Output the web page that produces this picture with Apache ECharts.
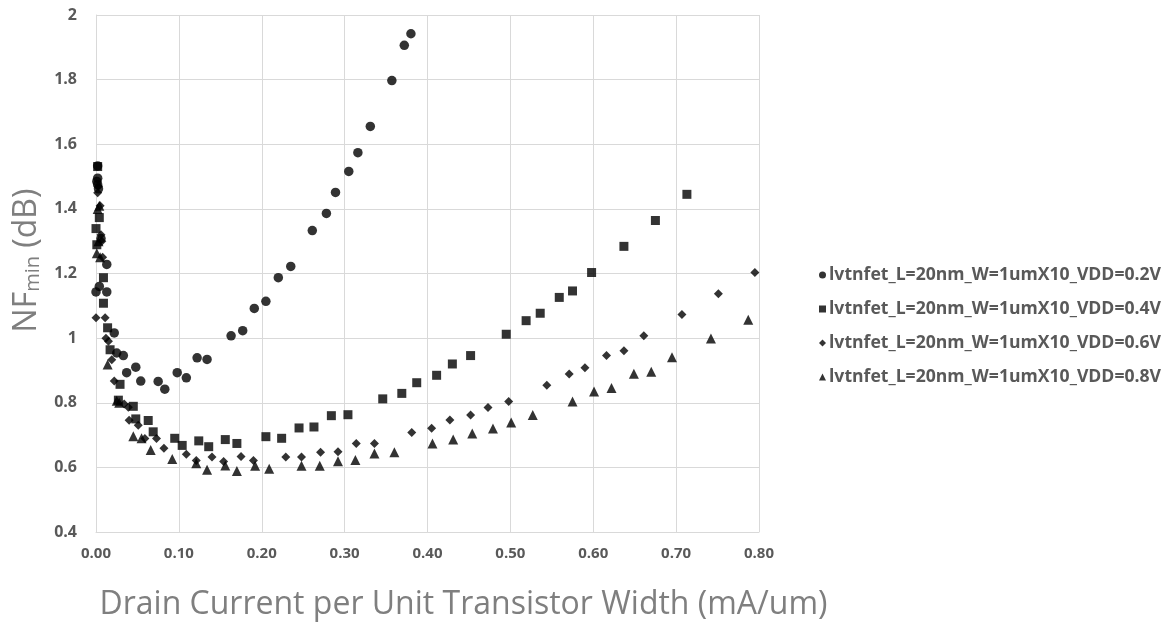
<!DOCTYPE html>
<html>
<head>
<meta charset="utf-8">
<script src="https://cdn.jsdelivr.net/npm/echarts@6/dist/echarts.min.js"></script>
<style>
  html, body { margin: 0; padding: 0; background: #ffffff; }
  #chart { width: 1167px; height: 626px; }
</style>
</head>
<body>
<div id="chart"></div>
<script>
// Minimum noise figure vs. drain current density, lvtnfet L=20nm W=1um x10
const seriesNames = [
  'lvtnfet_L=20nm_W=1umX10_VDD=0.2V',
  'lvtnfet_L=20nm_W=1umX10_VDD=0.4V',
  'lvtnfet_L=20nm_W=1umX10_VDD=0.6V',
  'lvtnfet_L=20nm_W=1umX10_VDD=0.8V'
];

// [current (mA/um), NFmin (dB)]
const vdd02 = [
  [0.002,1.533],[0.002,1.495],[0.001,1.485],[0.002,1.475],[0.003,1.462],[0.006,1.308],
  [0.013,1.228],[0.004,1.160],[0.000,1.143],[0.013,1.143],[0.022,1.016],[0.025,0.954],
  [0.033,0.946],[0.037,0.893],[0.048,0.910],[0.054,0.867],[0.075,0.866],[0.083,0.842],
  [0.098,0.893],[0.109,0.877],[0.122,0.939],[0.134,0.934],[0.163,1.007],[0.177,1.023],
  [0.191,1.092],[0.205,1.114],[0.220,1.187],[0.235,1.222],[0.261,1.333],[0.278,1.386],
  [0.289,1.451],[0.305,1.516],[0.316,1.574],[0.331,1.655],[0.357,1.797],[0.372,1.906],
  [0.380,1.942]
];
const vdd04 = [
  [0.002,1.531],[0.004,1.373],[0.000,1.339],[0.001,1.289],[0.009,1.187],[0.009,1.108],
  [0.014,1.032],[0.017,0.964],[0.029,0.857],[0.027,0.808],[0.045,0.789],[0.048,0.750],
  [0.063,0.745],[0.069,0.710],[0.095,0.690],[0.104,0.668],[0.124,0.682],[0.136,0.664],
  [0.156,0.686],[0.170,0.674],[0.205,0.695],[0.224,0.690],[0.245,0.722],[0.263,0.725],
  [0.284,0.760],[0.304,0.763],[0.346,0.812],[0.369,0.829],[0.387,0.862],[0.411,0.885],
  [0.430,0.920],[0.452,0.946],[0.495,1.012],[0.519,1.054],[0.536,1.077],[0.559,1.126],
  [0.575,1.146],[0.598,1.203],[0.637,1.284],[0.675,1.364],[0.713,1.445]
];
const vdd06 = [
  [0.002,1.450],[0.003,1.470],[0.005,1.410],[0.006,1.320],[0.007,1.300],[0.008,1.250],
  [0.000,1.063],[0.011,1.063],[0.012,1.000],[0.015,0.990],[0.019,0.933],[0.022,0.867],
  [0.034,0.796],[0.039,0.786],[0.040,0.746],[0.051,0.730],[0.059,0.689],[0.073,0.689],
  [0.082,0.659],[0.109,0.641],[0.121,0.621],[0.140,0.632],[0.154,0.618],[0.175,0.634],
  [0.190,0.621],[0.229,0.632],[0.248,0.632],[0.271,0.647],[0.292,0.648],[0.314,0.674],
  [0.336,0.674],[0.381,0.708],[0.405,0.721],[0.427,0.747],[0.452,0.762],[0.473,0.785],
  [0.498,0.804],[0.544,0.854],[0.571,0.889],[0.590,0.908],[0.616,0.946],[0.637,0.961],
  [0.661,1.007],[0.707,1.073],[0.751,1.137],[0.795,1.203]
];
const vdd08 = [
  [0.002,1.400],[0.004,1.410],[0.001,1.263],[0.003,1.300],[0.005,1.250],[0.014,0.918],
  [0.025,0.806],[0.028,0.800],[0.045,0.696],[0.055,0.690],[0.066,0.654],[0.092,0.626],
  [0.121,0.613],[0.134,0.593],[0.156,0.606],[0.170,0.589],[0.192,0.605],[0.209,0.596],
  [0.248,0.605],[0.270,0.605],[0.292,0.619],[0.313,0.623],[0.336,0.643],[0.360,0.647],
  [0.406,0.674],[0.431,0.686],[0.454,0.705],[0.479,0.720],[0.501,0.739],[0.527,0.762],
  [0.575,0.804],[0.601,0.835],[0.622,0.846],[0.649,0.890],[0.670,0.896],[0.695,0.941],
  [0.742,0.999],[0.787,1.057]
];

const seriesData = [vdd02, vdd04, vdd06, vdd08];
const symbols = ['circle', 'rect', 'diamond', 'triangle'];
const symbolSizes = [9.5, 9, 9, 10];

const xTitle = 'Drain Current per Unit Transistor Width (mA/um)';
const gridColor = '#d9d9d9';
const labelColor = '#595959';
const titleColor = '#7f7f7f';

const chart = echarts.init(document.getElementById('chart'), null, { renderer: 'canvas' });

chart.setOption({
  backgroundColor: '#ffffff',
  animation: false,
  grid: { left: 96, right: 408, top: 15, bottom: 86, containLabel: false },
  legend: {
    orient: 'vertical',
    left: 814,
    top: 261,
    itemWidth: 7,
    itemHeight: 7,
    itemGap: 16,
    data: seriesNames.map((n, i) => ({ name: n, icon: symbols[i] })),
    textStyle: { color: labelColor, fontFamily: 'Open Sans', fontWeight: 'bold', fontSize: 17.6, padding: [0, 0, 0, -2] }
  },
  xAxis: {
    type: 'value',
    min: 0, max: 0.8, interval: 0.1,
    name: xTitle,
    nameLocation: 'middle',
    nameGap: 57,
    nameTextStyle: { color: titleColor, fontFamily: 'Open Sans', fontSize: 32, padding: [0, 0, 0, 72] },
    axisLine: { show: true, lineStyle: { color: gridColor } },
    axisTick: { show: false },
    axisLabel: {
      margin: 14, color: labelColor, fontFamily: 'Open Sans', fontWeight: 'bold', fontSize: 15,
      formatter: v => v.toFixed(2)
    },
    splitLine: { show: true, lineStyle: { color: gridColor } }
  },
  yAxis: {
    type: 'value',
    min: 0.4, max: 2, interval: 0.2,
    name: '{a|NF}{b|min}{a| (dB)}',
    nameLocation: 'middle',
    nameGap: 50,
    nameTextStyle: {
      color: titleColor, padding: [0, 0, 0, 26],
      rich: {
        a: { fontFamily: 'Open Sans', fontSize: 32, color: titleColor, verticalAlign: 'bottom' },
        b: { fontFamily: 'Open Sans', fontSize: 20, color: titleColor, verticalAlign: 'bottom' }
      }
    },
    axisLine: { show: true, lineStyle: { color: gridColor } },
    axisTick: { show: false },
    axisLabel: { margin: 19, color: labelColor, fontFamily: 'Open Sans', fontWeight: 'bold', fontSize: 16 },
    splitLine: { show: true, lineStyle: { color: gridColor } }
  },
  series: seriesData.map((d, i) => ({
    name: seriesNames[i],
    type: 'scatter',
    data: d,
    symbol: symbols[i],
    symbolSize: symbolSizes[i],
    itemStyle: { color: '#000000' },
    clip: false
  }))
});
</script>
</body>
</html>
